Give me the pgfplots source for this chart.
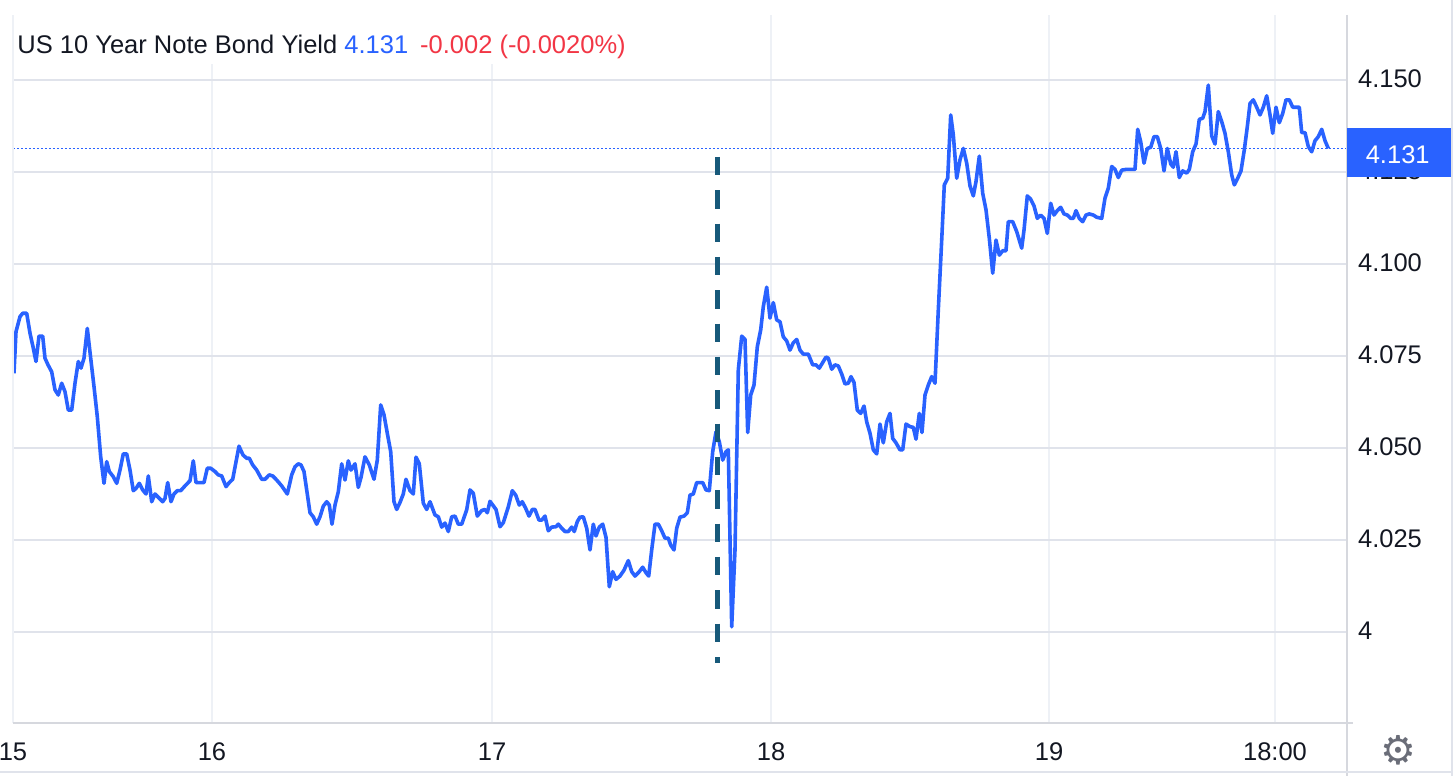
\documentclass[border=0pt]{standalone}
\usepackage{fontspec}
\setmainfont{Liberation Sans}
\newfontfamily\dejavu{DejaVu Sans}
\usepackage{pgfplots}
\pgfplotsset{compat=1.18}
\definecolor{tvblue}{HTML}{2962FF}
\definecolor{tvred}{HTML}{F23645}
\definecolor{gridh}{HTML}{E0E3EB}
\definecolor{gridv}{HTML}{EEF1F6}
\definecolor{axisgray}{HTML}{D6D8DE}
\definecolor{dashteal}{HTML}{17597A}
\definecolor{txt}{HTML}{131722}
\definecolor{gear}{HTML}{6A6D78}
\newcommand{\lbl}{\fontsize{12.75pt}{15pt}\selectfont}
\begin{document}
\begin{tikzpicture}
\useasboundingbox (0,0) rectangle (728pt,388pt);
\begin{axis}[
  at={(6.5pt,26.5pt)}, anchor=south west, scale only axis,
  width=667pt, height=354pt,
  xmin=13, xmax=1347, ymin=3.97527, ymax=4.16766,
  axis line style={draw=none},
  xtick={13,212,492,771,1049,1275},
  xticklabels={15,16,17,18,19,18:00},
  ytick={4,4.025,4.05,4.075,4.1,4.125,4.15},
  yticklabels={4,4.025,4.050,4.075,4.100,4.125,4.150},
  yticklabel pos=right,
  major tick length=0pt,
  tick style={draw=none},
  xmajorgrids, ymajorgrids,
  x grid style={gridv, line width=1pt},
  y grid style={gridh, line width=1pt},
  xticklabel style={font=\lbl, text=txt, anchor=base, inner sep=0pt, yshift=-18.5pt},
  yticklabel style={font=\lbl, text=txt, anchor=base west, inner sep=0pt, xshift=5.35pt, yshift=-3.65pt},
  clip=true,
]
\addplot[tvblue, line width=0.8pt, dash pattern=on 0.8pt off 1.2pt] coordinates {(13,4.1314) (1347,4.1314)};
\addplot[tvblue, line width=1.8pt, line join=round] coordinates {
(14,4.0703) (16,4.0816) (20,4.0857) (22.7,4.0866) (26.7,4.0866) (30,4.0812) (33,4.0775) (36,4.0735)
(39,4.0804) (42.7,4.0804) (45,4.0744) (48,4.0726) (51.7,4.0707) (55,4.0658) (58.3,4.0644) (61.7,4.0676)
(65,4.0653) (68.3,4.0603) (71.7,4.0603) (75,4.0676) (78.3,4.0735) (81,4.0717) (84,4.0744) (87.3,4.0825)
(90.7,4.0744) (94,4.0667) (97.3,4.0585) (100.7,4.0476) (104,4.0404) (106.7,4.0463) (109.3,4.0436)
(113.3,4.0422) (116.7,4.0404) (120,4.0440) (123.3,4.0484) (126.7,4.0484) (130,4.0440) (133.3,4.0384)
(136,4.0390) (139.3,4.0404) (142.7,4.0386) (146,4.0375) (148.3,4.0424) (151.7,4.0354) (155,4.0375)
(158.3,4.0366) (162.7,4.0354) (165,4.0363) (167.7,4.0406) (171,4.0354) (174,4.0375) (177.3,4.0384)
(180.7,4.0384) (185,4.0397) (190,4.0411) (193.3,4.0465) (196,4.0406) (200,4.0406) (204,4.0406)
(207.3,4.0445) (210.7,4.0445) (215,4.0436) (218.3,4.0427) (221.7,4.0424) (226,4.0395) (229.3,4.0406)
(232.7,4.0415) (239,4.0505) (243,4.0481) (246.7,4.0472) (249.3,4.0472) (252.7,4.0454) (256.7,4.0440)
(261.7,4.0415) (265,4.0415) (269.3,4.0427) (272.7,4.0424) (276.7,4.0413) (281.7,4.0397) (287.3,4.0375)
(291.7,4.0427) (295,4.0449) (298.3,4.0457) (301,4.0454) (304,4.0436) (306.7,4.0386) (310,4.0324)
(313.3,4.0313) (316.7,4.0293) (320,4.0313) (323.3,4.0342) (326.7,4.0354) (329.3,4.0345) (332,4.0293)
(335,4.0345) (338.3,4.0381) (341.7,4.0457) (345,4.0413) (348.3,4.0465) (351,4.0440) (355,4.0457)
(358.3,4.0393) (361,4.0420) (365,4.0476) (369.3,4.0454) (374,4.0415) (377.3,4.0467) (380.7,4.0617)
(384,4.0590) (387.3,4.0540) (390.7,4.0490) (394,4.0354) (396.7,4.0333) (400,4.0352) (403.3,4.0375)
(406,4.0415) (410,4.0384) (413.3,4.0375) (416,4.0475) (419.3,4.0457) (423.3,4.0350) (426.7,4.0333)
(430,4.0354) (435,4.0318) (438.3,4.0313) (441.7,4.0285) (445,4.0296) (448.3,4.0273) (451.7,4.0313)
(455,4.0315) (458.3,4.0293) (461.7,4.0293) (466.7,4.0332) (470,4.0386) (473.3,4.0377) (477.3,4.0315)
(481.7,4.0330) (485,4.0333) (487.3,4.0324) (490,4.0355) (496,4.0333) (500,4.0286) (503.3,4.0297)
(508.3,4.0340) (512.3,4.0384) (515.7,4.0372) (519.3,4.0345) (522.3,4.0354) (525.7,4.0336) (529,4.0315)
(532.3,4.0333) (535,4.0333) (539,4.0304) (541.7,4.0304) (545,4.0315) (548.3,4.0275) (551.7,4.0285)
(556,4.0286) (558.3,4.0293) (561.7,4.0282) (565,4.0273) (568.3,4.0273) (571.7,4.0285) (574.3,4.0273)
(577.3,4.0300) (580,4.0312) (583.3,4.0313) (586.7,4.0282) (590,4.0223) (593.3,4.0293) (596,4.0261)
(599.3,4.0285) (602.7,4.0293) (606,4.0257) (609.3,4.0123) (612.7,4.0164) (616,4.0143) (620,4.0152)
(624,4.0168) (628.3,4.0194) (631.7,4.0164) (635,4.0152) (639.3,4.0164) (642.7,4.0176) (646,4.0161)
(648.7,4.0152) (651.7,4.0223) (655,4.0293) (658.3,4.0293) (661.7,4.0275) (665,4.0255) (668.3,4.0255)
(670.7,4.0236) (674,4.0223) (676.7,4.0282) (680,4.0312) (684,4.0315) (687.3,4.0324) (690,4.0372)
(693.3,4.0375) (696.7,4.0406) (702.7,4.0406) (706,4.0386) (709.3,4.0384) (712.7,4.0490) (716,4.0544)
(719.3,4.0517) (722.7,4.0467) (726,4.0490) (728.3,4.0495) (731.7,4.0014) (735,4.0223) (738.3,4.0712)
(741.7,4.0804) (745,4.0795) (747.7,4.0542) (750.7,4.0644) (754,4.0671) (757.3,4.0775) (760.7,4.0821)
(763.3,4.0884) (766.7,4.0937) (770,4.0853) (773.3,4.0895) (776.7,4.0848) (780,4.0843) (783.3,4.0802)
(786.7,4.0791) (790,4.0766) (793.3,4.0786) (796.7,4.0795) (800,4.0766) (803.3,4.0755) (808.3,4.0755)
(812.7,4.0726) (816,4.0726) (819.3,4.0717) (823.3,4.0735) (826,4.0747) (828.3,4.0744) (831.7,4.0714)
(835,4.0726) (838.3,4.0723) (841.7,4.0701) (845,4.0674) (848.3,4.0676) (851,4.0694) (854,4.0678)
(857.3,4.0603) (860.7,4.0594) (864,4.0614) (866.7,4.0571) (870,4.0540) (873.3,4.0495) (876.7,4.0484)
(880,4.0565) (883.3,4.0514) (886.7,4.0571) (890,4.0594) (892.7,4.0526) (896,4.0514) (900,4.0495)
(902.7,4.0495) (906,4.0565) (910,4.0558) (913.3,4.0556) (916,4.0524) (919.3,4.0594) (922,4.0542)
(925,4.0644) (928.3,4.0671) (931.7,4.0694) (935,4.0676) (938.3,4.0875) (941.7,4.1065) (944.3,4.1215)
(947.7,4.1233) (950.7,4.1405) (953.3,4.1351) (956.7,4.1233) (960,4.1283) (963.3,4.1314) (966.7,4.1274)
(970,4.1212) (973.3,4.1185) (976,4.1224) (979.3,4.1293) (982.7,4.1192) (986,4.1147) (989.3,4.1070)
(992.7,4.0975) (996,4.1065) (999.3,4.1024) (1002.7,4.1036) (1006,4.1036) (1008.3,4.1115) (1012.7,4.1115)
(1016.7,4.1088) (1021.7,4.1043) (1024,4.1092) (1027.3,4.1185) (1030.7,4.1176) (1034,4.1158) (1037.3,4.1124)
(1040.7,4.1133) (1044,4.1124) (1047.3,4.1083) (1050.7,4.1165) (1054,4.1133) (1057.3,4.1145) (1060.7,4.1154)
(1064,4.1136) (1067.3,4.1133) (1070.7,4.1124) (1073.3,4.1124) (1076,4.1145) (1079.3,4.1124) (1082.7,4.1115)
(1086,4.1133) (1089.3,4.1136) (1093.3,4.1133) (1096.7,4.1127) (1101.7,4.1124) (1105,4.1179) (1108.3,4.1206)
(1111.7,4.1265) (1115,4.1257) (1118.3,4.1235) (1121.7,4.1255) (1126,4.1257) (1130,4.1257) (1135,4.1257)
(1137.7,4.1366) (1140.7,4.1332) (1144,4.1274) (1147.3,4.1314) (1150.7,4.1317) (1154,4.1346) (1157.3,4.1346)
(1160.7,4.1314) (1164,4.1253) (1167.3,4.1314) (1170.7,4.1272) (1173.3,4.1263) (1176,4.1305) (1179.3,4.1235)
(1182.7,4.1253) (1186.7,4.1247) (1189.3,4.1257) (1192.7,4.1305) (1196,4.1326) (1199.3,4.1393) (1202.7,4.1396)
(1205,4.1414) (1208.3,4.1486) (1211.7,4.1348) (1215,4.1326) (1218.3,4.1414) (1221.7,4.1387) (1225,4.1355)
(1228.3,4.1305) (1231.7,4.1242) (1234.3,4.1215) (1237.7,4.1233) (1241,4.1253) (1244.3,4.1310) (1247.3,4.1373)
(1250,4.1436) (1253.3,4.1446) (1256.7,4.1426) (1260,4.1405) (1263.3,4.1426) (1266.7,4.1457) (1270,4.1405)
(1272.7,4.1355) (1276,4.1426) (1279.3,4.1384) (1282.7,4.1409) (1286,4.1446) (1289.3,4.1446) (1292.7,4.1426)
(1299.3,4.1426) (1301.7,4.1357) (1305,4.1357) (1308.3,4.1319) (1311.7,4.1305) (1315,4.1335) (1318.3,4.1346)
(1321.7,4.1366) (1325,4.1335) (1328.3,4.1314)
};
\addplot[dashteal, line width=2.3pt, dash pattern=on 9.17pt off 7.5pt] coordinates {(717.7,4.1291) (717.7,3.9916)};
\end{axis}
\begin{scope}[x=0.5pt, y=-0.5pt, yshift=388pt]
  \fill[white] (14,14) rectangle (645,64);
  \node[anchor=base west, inner sep=0pt, font=\lbl, text=txt] at (17,53.3)
    {US 10 Year Note Bond Yield \textcolor{tvblue}{4.131}\hspace{6pt}\textcolor{tvred}{-0.002 (-0.0020\%)}};
  \draw[gridv, line width=1pt] (13,15) -- (13,723);
  \draw[axisgray, line width=1pt] (13,723) -- (1353,723);
  \draw[axisgray, line width=1pt] (1347,15) -- (1347,776);
  \draw[gridh, line width=1pt] (1452,0) -- (1452,776);
  \draw[gridh, line width=1pt] (0,772) -- (1452,772);
  \fill[tvblue] (1347,128) rectangle (1451,177);
  \node[font=\lbl, text=white, anchor=base, inner sep=0pt] at (1397.7,164) {4.131};
  \node[font=\dejavu\fontsize{20pt}{20pt}\selectfont, text=gear, inner sep=0pt] at (1398,750.7) {⚙};
\end{scope}
\end{tikzpicture}
\end{document}
